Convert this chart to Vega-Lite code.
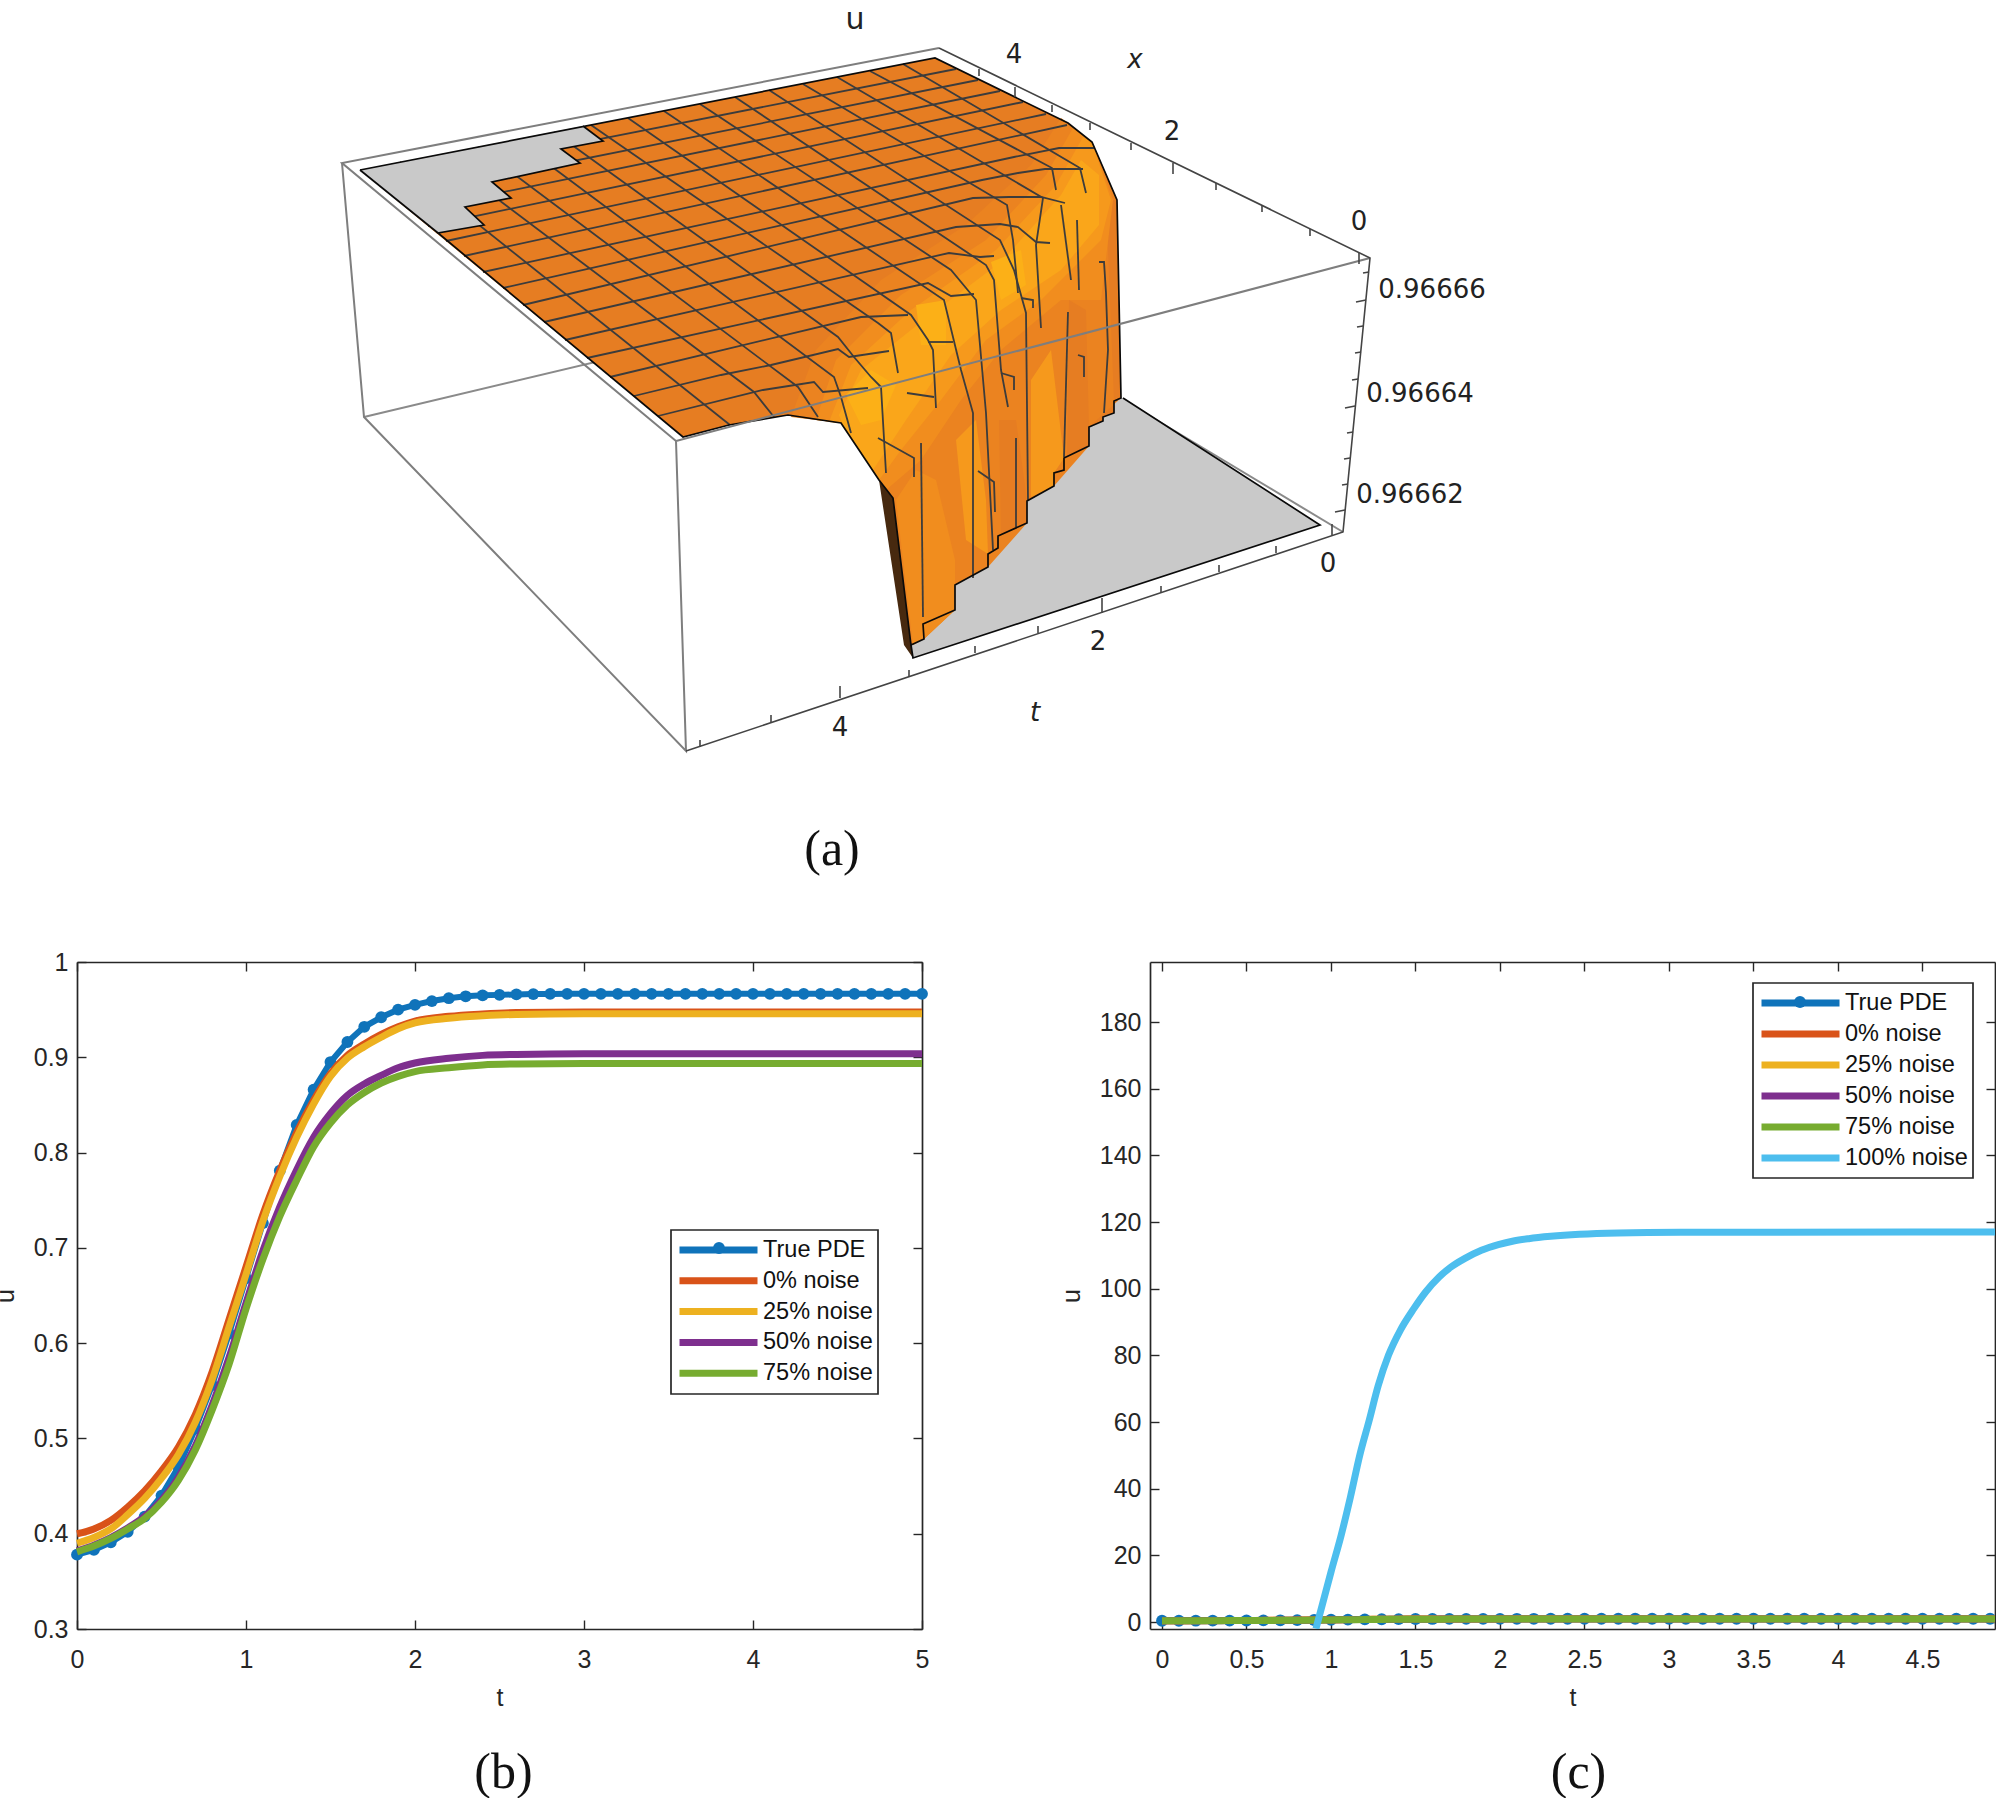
{"$schema":"https://vega.github.io/schema/vega-lite/v6.json","background":"white","padding":{"left":-7,"top":0,"right":0,"bottom":0},"bounds":"flush","spacing":62,
"config":{"view":{"stroke":null},"legend":{"strokeWidth":1.7},"title":{"font":"Liberation Serif","fontSize":50,"fontWeight":"normal","color":"#111111"}},
"datasets":{
"polys":[
{"poly":"floor","i":0,"sx":912,"sy":658,"tone":"floor"},{"poly":"floor","i":1,"sx":1319,"sy":525,"tone":"floor"},{"poly":"floor","i":2,"sx":1122,"sy":398,"tone":"floor"},{"poly":"floor","i":3,"sx":1040,"sy":420,"tone":"floor"},{"poly":"floor","i":4,"sx":920,"sy":590,"tone":"floor"},{"poly":"floor","i":5,"sx":910,"sy":645,"tone":"floor"},
{"poly":"surface","i":0,"sx":359,"sy":170,"tone":"t0"},{"poly":"surface","i":1,"sx":934,"sy":58,"tone":"t0"},{"poly":"surface","i":2,"sx":1067,"sy":123,"tone":"t0"},{"poly":"surface","i":3,"sx":1091,"sy":142,"tone":"t0"},{"poly":"surface","i":4,"sx":1116,"sy":200,"tone":"t0"},{"poly":"surface","i":5,"sx":1120,"sy":398,"tone":"t0"},{"poly":"surface","i":6,"sx":1113,"sy":401,"tone":"t0"},{"poly":"surface","i":7,"sx":1113,"sy":413,"tone":"t0"},{"poly":"surface","i":8,"sx":1102,"sy":417,"tone":"t0"},{"poly":"surface","i":9,"sx":1102,"sy":421,"tone":"t0"},{"poly":"surface","i":10,"sx":1088,"sy":427,"tone":"t0"},{"poly":"surface","i":11,"sx":1088,"sy":446,"tone":"t0"},{"poly":"surface","i":12,"sx":1063,"sy":458,"tone":"t0"},{"poly":"surface","i":13,"sx":1063,"sy":470,"tone":"t0"},{"poly":"surface","i":14,"sx":1053,"sy":473,"tone":"t0"},{"poly":"surface","i":15,"sx":1053,"sy":486,"tone":"t0"},{"poly":"surface","i":16,"sx":1026,"sy":501,"tone":"t0"},{"poly":"surface","i":17,"sx":1026,"sy":523,"tone":"t0"},{"poly":"surface","i":18,"sx":997,"sy":536,"tone":"t0"},{"poly":"surface","i":19,"sx":997,"sy":548,"tone":"t0"},{"poly":"surface","i":20,"sx":987,"sy":554,"tone":"t0"},{"poly":"surface","i":21,"sx":987,"sy":567,"tone":"t0"},{"poly":"surface","i":22,"sx":954,"sy":585,"tone":"t0"},{"poly":"surface","i":23,"sx":954,"sy":610,"tone":"t0"},{"poly":"surface","i":24,"sx":922,"sy":624,"tone":"t0"},{"poly":"surface","i":25,"sx":923,"sy":639,"tone":"t0"},{"poly":"surface","i":26,"sx":910,"sy":645,"tone":"t0"},{"poly":"surface","i":27,"sx":892,"sy":498,"tone":"t0"},{"poly":"surface","i":28,"sx":878,"sy":480,"tone":"t0"},{"poly":"surface","i":29,"sx":840,"sy":423,"tone":"t0"},{"poly":"surface","i":30,"sx":787,"sy":415,"tone":"t0"},{"poly":"surface","i":31,"sx":728,"sy":425,"tone":"t0"},{"poly":"surface","i":32,"sx":682,"sy":437,"tone":"t0"},
{"poly":"curtain","i":0,"sx":790,"sy":417,"tone":"t1"},{"poly":"curtain","i":1,"sx":815,"sy":350,"tone":"t1"},{"poly":"curtain","i":2,"sx":880,"sy":280,"tone":"t1"},{"poly":"curtain","i":3,"sx":965,"sy":225,"tone":"t1"},{"poly":"curtain","i":4,"sx":1030,"sy":165,"tone":"t1"},{"poly":"curtain","i":5,"sx":1060,"sy":118,"tone":"t1"},{"poly":"curtain","i":6,"sx":1067,"sy":123,"tone":"t1"},{"poly":"curtain","i":7,"sx":1091,"sy":142,"tone":"t1"},{"poly":"curtain","i":8,"sx":1116,"sy":200,"tone":"t1"},{"poly":"curtain","i":9,"sx":1120,"sy":398,"tone":"t1"},{"poly":"curtain","i":10,"sx":1088,"sy":427,"tone":"t1"},{"poly":"curtain","i":11,"sx":1088,"sy":446,"tone":"t1"},{"poly":"curtain","i":12,"sx":1053,"sy":486,"tone":"t1"},{"poly":"curtain","i":13,"sx":1026,"sy":501,"tone":"t1"},{"poly":"curtain","i":14,"sx":1026,"sy":523,"tone":"t1"},{"poly":"curtain","i":15,"sx":987,"sy":567,"tone":"t1"},{"poly":"curtain","i":16,"sx":954,"sy":585,"tone":"t1"},{"poly":"curtain","i":17,"sx":954,"sy":610,"tone":"t1"},{"poly":"curtain","i":18,"sx":923,"sy":639,"tone":"t1"},{"poly":"curtain","i":19,"sx":910,"sy":645,"tone":"t1"},{"poly":"curtain","i":20,"sx":892,"sy":498,"tone":"t1"},{"poly":"curtain","i":21,"sx":878,"sy":480,"tone":"t1"},{"poly":"curtain","i":22,"sx":840,"sy":423,"tone":"t1"},
{"poly":"stripA","i":0,"sx":895,"sy":500,"tone":"t2"},{"poly":"stripA","i":1,"sx":915,"sy":470,"tone":"t2"},{"poly":"stripA","i":2,"sx":935,"sy":480,"tone":"t2"},{"poly":"stripA","i":3,"sx":954,"sy":560,"tone":"t2"},{"poly":"stripA","i":4,"sx":954,"sy":610,"tone":"t2"},{"poly":"stripA","i":5,"sx":923,"sy":639,"tone":"t2"},{"poly":"stripA","i":6,"sx":912,"sy":645,"tone":"t2"},
{"poly":"stripB","i":0,"sx":955,"sy":440,"tone":"t3"},{"poly":"stripB","i":1,"sx":975,"sy":420,"tone":"t3"},{"poly":"stripB","i":2,"sx":985,"sy":500,"tone":"t3"},{"poly":"stripB","i":3,"sx":987,"sy":554,"tone":"t3"},{"poly":"stripB","i":4,"sx":965,"sy":540,"tone":"t3"},
{"poly":"stripC","i":0,"sx":998,"sy":420,"tone":"t0"},{"poly":"stripC","i":1,"sx":1015,"sy":420,"tone":"t0"},{"poly":"stripC","i":2,"sx":1026,"sy":500,"tone":"t0"},{"poly":"stripC","i":3,"sx":1026,"sy":523,"tone":"t0"},{"poly":"stripC","i":4,"sx":1000,"sy":535,"tone":"t0"},
{"poly":"stripD","i":0,"sx":1030,"sy":380,"tone":"t3"},{"poly":"stripD","i":1,"sx":1050,"sy":350,"tone":"t3"},{"poly":"stripD","i":2,"sx":1063,"sy":458,"tone":"t3"},{"poly":"stripD","i":3,"sx":1053,"sy":473,"tone":"t3"},{"poly":"stripD","i":4,"sx":1053,"sy":486,"tone":"t3"},{"poly":"stripD","i":5,"sx":1030,"sy":497,"tone":"t3"},
{"poly":"stripE","i":0,"sx":1068,"sy":300,"tone":"t0"},{"poly":"stripE","i":1,"sx":1085,"sy":310,"tone":"t0"},{"poly":"stripE","i":2,"sx":1088,"sy":427,"tone":"t0"},{"poly":"stripE","i":3,"sx":1088,"sy":446,"tone":"t0"},{"poly":"stripE","i":4,"sx":1066,"sy":455,"tone":"t0"},
{"poly":"stripF","i":0,"sx":1105,"sy":200,"tone":"t0"},{"poly":"stripF","i":1,"sx":1116,"sy":200,"tone":"t0"},{"poly":"stripF","i":2,"sx":1120,"sy":398,"tone":"t0"},{"poly":"stripF","i":3,"sx":1113,"sy":401,"tone":"t0"},
{"poly":"band2","i":0,"sx":815,"sy":420,"tone":"t2"},{"poly":"band2","i":1,"sx":835,"sy":360,"tone":"t2"},{"poly":"band2","i":2,"sx":900,"sy":295,"tone":"t2"},{"poly":"band2","i":3,"sx":985,"sy":240,"tone":"t2"},{"poly":"band2","i":4,"sx":1045,"sy":175,"tone":"t2"},{"poly":"band2","i":5,"sx":1072,"sy":128,"tone":"t2"},{"poly":"band2","i":6,"sx":1091,"sy":142,"tone":"t2"},{"poly":"band2","i":7,"sx":1112,"sy":200,"tone":"t2"},{"poly":"band2","i":8,"sx":1100,"sy":300,"tone":"t2"},{"poly":"band2","i":9,"sx":1060,"sy":300,"tone":"t2"},{"poly":"band2","i":10,"sx":1000,"sy":350,"tone":"t2"},{"poly":"band2","i":11,"sx":960,"sy":400,"tone":"t2"},{"poly":"band2","i":12,"sx":920,"sy":460,"tone":"t2"},{"poly":"band2","i":13,"sx":885,"sy":490,"tone":"t2"},{"poly":"band2","i":14,"sx":878,"sy":480,"tone":"t2"},{"poly":"band2","i":15,"sx":840,"sy":423,"tone":"t2"},
{"poly":"band3","i":0,"sx":828,"sy":422,"tone":"t3"},{"poly":"band3","i":1,"sx":850,"sy":365,"tone":"t3"},{"poly":"band3","i":2,"sx":910,"sy":310,"tone":"t3"},{"poly":"band3","i":3,"sx":995,"sy":250,"tone":"t3"},{"poly":"band3","i":4,"sx":1055,"sy":185,"tone":"t3"},{"poly":"band3","i":5,"sx":1082,"sy":137,"tone":"t3"},{"poly":"band3","i":6,"sx":1091,"sy":142,"tone":"t3"},{"poly":"band3","i":7,"sx":1110,"sy":200,"tone":"t3"},{"poly":"band3","i":8,"sx":1100,"sy":240,"tone":"t3"},{"poly":"band3","i":9,"sx":1040,"sy":300,"tone":"t3"},{"poly":"band3","i":10,"sx":985,"sy":340,"tone":"t3"},{"poly":"band3","i":11,"sx":940,"sy":400,"tone":"t3"},{"poly":"band3","i":12,"sx":900,"sy":450,"tone":"t3"},{"poly":"band3","i":13,"sx":878,"sy":480,"tone":"t3"},{"poly":"band3","i":14,"sx":840,"sy":423,"tone":"t3"},
{"poly":"band4","i":0,"sx":838,"sy":415,"tone":"t4"},{"poly":"band4","i":1,"sx":860,"sy":370,"tone":"t4"},{"poly":"band4","i":2,"sx":925,"sy":318,"tone":"t4"},{"poly":"band4","i":3,"sx":1000,"sy":262,"tone":"t4"},{"poly":"band4","i":4,"sx":1060,"sy":195,"tone":"t4"},{"poly":"band4","i":5,"sx":1080,"sy":160,"tone":"t4"},{"poly":"band4","i":6,"sx":1098,"sy":175,"tone":"t4"},{"poly":"band4","i":7,"sx":1098,"sy":225,"tone":"t4"},{"poly":"band4","i":8,"sx":1060,"sy":270,"tone":"t4"},{"poly":"band4","i":9,"sx":1000,"sy":310,"tone":"t4"},{"poly":"band4","i":10,"sx":950,"sy":355,"tone":"t4"},{"poly":"band4","i":11,"sx":905,"sy":420,"tone":"t4"},{"poly":"band4","i":12,"sx":872,"sy":470,"tone":"t4"},{"poly":"band4","i":13,"sx":842,"sy":425,"tone":"t4"},
{"poly":"glow1","i":0,"sx":845,"sy":395,"tone":"t5"},{"poly":"glow1","i":1,"sx":870,"sy":370,"tone":"t5"},{"poly":"glow1","i":2,"sx":895,"sy":385,"tone":"t5"},{"poly":"glow1","i":3,"sx":880,"sy":420,"tone":"t5"},{"poly":"glow1","i":4,"sx":860,"sy":425,"tone":"t5"},
{"poly":"glow2","i":0,"sx":915,"sy":305,"tone":"t5"},{"poly":"glow2","i":1,"sx":945,"sy":300,"tone":"t5"},{"poly":"glow2","i":2,"sx":945,"sy":345,"tone":"t5"},{"poly":"glow2","i":3,"sx":920,"sy":345,"tone":"t5"},
{"poly":"glow3","i":0,"sx":990,"sy":262,"tone":"t5"},{"poly":"glow3","i":1,"sx":1020,"sy":250,"tone":"t5"},{"poly":"glow3","i":2,"sx":1025,"sy":285,"tone":"t5"},{"poly":"glow3","i":3,"sx":1000,"sy":300,"tone":"t5"},
{"poly":"shadow","i":0,"sx":878,"sy":480,"tone":"shadow"},{"poly":"shadow","i":1,"sx":892,"sy":498,"tone":"shadow"},{"poly":"shadow","i":2,"sx":910,"sy":645,"tone":"shadow"},{"poly":"shadow","i":3,"sx":912,"sy":658,"tone":"shadow"},{"poly":"shadow","i":4,"sx":903,"sy":645,"tone":"shadow"},
{"poly":"cut","i":0,"sx":359,"sy":170,"tone":"cut"},{"poly":"cut","i":1,"sx":437,"sy":233,"tone":"cut"},{"poly":"cut","i":2,"sx":483,"sy":225,"tone":"cut"},{"poly":"cut","i":3,"sx":464,"sy":207,"tone":"cut"},{"poly":"cut","i":4,"sx":510,"sy":198,"tone":"cut"},{"poly":"cut","i":5,"sx":491,"sy":182,"tone":"cut"},{"poly":"cut","i":6,"sx":579,"sy":163,"tone":"cut"},{"poly":"cut","i":7,"sx":560,"sy":149,"tone":"cut"},{"poly":"cut","i":8,"sx":602,"sy":141,"tone":"cut"},{"poly":"cut","i":9,"sx":582,"sy":126,"tone":"cut"}
],
"paths":[
{"path":"b1","i":0,"sx":363,"sy":417,"kind":"back"},{"path":"b1","i":1,"sx":927,"sy":283,"kind":"back"},{"path":"b2","i":0,"sx":1342,"sy":532,"kind":"back"},{"path":"b2","i":1,"sx":927,"sy":283,"kind":"back"},
{"path":"k1","i":0,"sx":375,"sy":183,"kind":"mesh"},{"path":"k1","i":1,"sx":955,"sy":69,"kind":"mesh"},
{"path":"k2","i":0,"sx":392,"sy":197,"kind":"mesh"},{"path":"k2","i":1,"sx":977,"sy":80,"kind":"mesh"},
{"path":"k3","i":0,"sx":409,"sy":211,"kind":"mesh"},{"path":"k3","i":1,"sx":999,"sy":91,"kind":"mesh"},
{"path":"k4","i":0,"sx":427,"sy":226,"kind":"mesh"},{"path":"k4","i":1,"sx":1022,"sy":102,"kind":"mesh"},
{"path":"k5","i":0,"sx":445,"sy":241,"kind":"mesh"},{"path":"k5","i":1,"sx":1045,"sy":114,"kind":"mesh"},
{"path":"k6","i":0,"sx":463,"sy":256,"kind":"mesh"},{"path":"k6","i":1,"sx":1066,"sy":125,"kind":"mesh"},
{"path":"k7","i":0,"sx":482,"sy":272,"kind":"mesh"},{"path":"k7","i":1,"sx":1013,"sy":157,"kind":"mesh"},{"path":"k7","i":2,"sx":1058,"sy":148,"kind":"mesh"},{"path":"k7","i":3,"sx":1094,"sy":148,"kind":"mesh"},
{"path":"k8","i":0,"sx":502,"sy":288,"kind":"mesh"},{"path":"k8","i":1,"sx":981,"sy":180,"kind":"mesh"},{"path":"k8","i":2,"sx":1017,"sy":173,"kind":"mesh"},{"path":"k8","i":3,"sx":1044,"sy":169,"kind":"mesh"},{"path":"k8","i":4,"sx":1082,"sy":169,"kind":"mesh"},
{"path":"k9","i":0,"sx":522,"sy":305,"kind":"mesh"},{"path":"k9","i":1,"sx":972,"sy":198,"kind":"mesh"},{"path":"k9","i":2,"sx":1008,"sy":197,"kind":"mesh"},{"path":"k9","i":3,"sx":1040,"sy":197,"kind":"mesh"},{"path":"k9","i":4,"sx":1064,"sy":203,"kind":"mesh"},
{"path":"k10","i":0,"sx":543,"sy":322,"kind":"mesh"},{"path":"k10","i":1,"sx":955,"sy":227,"kind":"mesh"},{"path":"k10","i":2,"sx":999,"sy":224,"kind":"mesh"},{"path":"k10","i":3,"sx":1017,"sy":227,"kind":"mesh"},{"path":"k10","i":4,"sx":1035,"sy":242,"kind":"mesh"},{"path":"k10","i":5,"sx":1049,"sy":243,"kind":"mesh"},
{"path":"k11","i":0,"sx":564,"sy":340,"kind":"mesh"},{"path":"k11","i":1,"sx":948,"sy":253,"kind":"mesh"},{"path":"k11","i":2,"sx":979,"sy":257,"kind":"mesh"},{"path":"k11","i":3,"sx":993,"sy":256,"kind":"mesh"},
{"path":"k12","i":0,"sx":586,"sy":358,"kind":"mesh"},{"path":"k12","i":1,"sx":927,"sy":283,"kind":"mesh"},{"path":"k12","i":2,"sx":950,"sy":296,"kind":"mesh"},{"path":"k12","i":3,"sx":973,"sy":294,"kind":"mesh"},
{"path":"k13","i":0,"sx":609,"sy":377,"kind":"mesh"},{"path":"k13","i":1,"sx":860,"sy":317,"kind":"mesh"},{"path":"k13","i":2,"sx":907,"sy":315,"kind":"mesh"},
{"path":"k14","i":0,"sx":633,"sy":396,"kind":"mesh"},{"path":"k14","i":1,"sx":720,"sy":375,"kind":"mesh"},{"path":"k14","i":2,"sx":770,"sy":365,"kind":"mesh"},{"path":"k14","i":3,"sx":837,"sy":349,"kind":"mesh"},{"path":"k14","i":4,"sx":848,"sy":357,"kind":"mesh"},{"path":"k14","i":5,"sx":888,"sy":351,"kind":"mesh"},
{"path":"k15","i":0,"sx":657,"sy":416,"kind":"mesh"},{"path":"k15","i":1,"sx":762,"sy":390,"kind":"mesh"},{"path":"k15","i":2,"sx":813,"sy":382,"kind":"mesh"},{"path":"k15","i":3,"sx":822,"sy":392,"kind":"mesh"},{"path":"k15","i":4,"sx":867,"sy":388,"kind":"mesh"},
{"path":"j1","i":0,"sx":399,"sy":162,"kind":"mesh"},{"path":"j1","i":1,"sx":729,"sy":425,"kind":"mesh"},
{"path":"j2","i":0,"sx":438,"sy":155,"kind":"mesh"},{"path":"j2","i":1,"sx":753,"sy":392,"kind":"mesh"},{"path":"j2","i":2,"sx":773,"sy":417,"kind":"mesh"},
{"path":"j3","i":0,"sx":477,"sy":147,"kind":"mesh"},{"path":"j3","i":1,"sx":797,"sy":387,"kind":"mesh"},{"path":"j3","i":2,"sx":817,"sy":417,"kind":"mesh"},
{"path":"j4","i":0,"sx":515,"sy":140,"kind":"mesh"},{"path":"j4","i":1,"sx":833,"sy":377,"kind":"mesh"},{"path":"j4","i":2,"sx":840,"sy":397,"kind":"mesh"},{"path":"j4","i":3,"sx":850,"sy":433,"kind":"mesh"},
{"path":"j5","i":0,"sx":553,"sy":132,"kind":"mesh"},{"path":"j5","i":1,"sx":837,"sy":337,"kind":"mesh"},{"path":"j5","i":2,"sx":853,"sy":357,"kind":"mesh"},{"path":"j5","i":3,"sx":870,"sy":377,"kind":"mesh"},{"path":"j5","i":4,"sx":880,"sy":387,"kind":"mesh"},{"path":"j5","i":5,"sx":885,"sy":473,"kind":"mesh"},
{"path":"j6","i":0,"sx":590,"sy":125,"kind":"mesh"},{"path":"j6","i":1,"sx":877,"sy":323,"kind":"mesh"},{"path":"j6","i":2,"sx":890,"sy":333,"kind":"mesh"},{"path":"j6","i":3,"sx":897,"sy":373,"kind":"mesh"},
{"path":"j7","i":0,"sx":627,"sy":118,"kind":"mesh"},{"path":"j7","i":1,"sx":910,"sy":315,"kind":"mesh"},{"path":"j7","i":2,"sx":927,"sy":340,"kind":"mesh"},{"path":"j7","i":3,"sx":932,"sy":350,"kind":"mesh"},{"path":"j7","i":4,"sx":935,"sy":408,"kind":"mesh"},
{"path":"j8","i":0,"sx":663,"sy":111,"kind":"mesh"},{"path":"j8","i":1,"sx":943,"sy":300,"kind":"mesh"},{"path":"j8","i":2,"sx":960,"sy":370,"kind":"mesh"},{"path":"j8","i":3,"sx":972,"sy":413,"kind":"mesh"},{"path":"j8","i":4,"sx":972,"sy":578,"kind":"mesh"},
{"path":"j9","i":0,"sx":699,"sy":104,"kind":"mesh"},{"path":"j9","i":1,"sx":950,"sy":270,"kind":"mesh"},{"path":"j9","i":2,"sx":975,"sy":300,"kind":"mesh"},{"path":"j9","i":3,"sx":985,"sy":413,"kind":"mesh"},{"path":"j9","i":4,"sx":992,"sy":550,"kind":"mesh"},
{"path":"j10","i":0,"sx":734,"sy":97,"kind":"mesh"},{"path":"j10","i":1,"sx":985,"sy":265,"kind":"mesh"},{"path":"j10","i":2,"sx":993,"sy":280,"kind":"mesh"},{"path":"j10","i":3,"sx":1000,"sy":370,"kind":"mesh"},{"path":"j10","i":4,"sx":1007,"sy":407,"kind":"mesh"},
{"path":"j11","i":0,"sx":768,"sy":90,"kind":"mesh"},{"path":"j11","i":1,"sx":999,"sy":240,"kind":"mesh"},{"path":"j11","i":2,"sx":1013,"sy":270,"kind":"mesh"},{"path":"j11","i":3,"sx":1025,"sy":313,"kind":"mesh"},{"path":"j11","i":4,"sx":1027,"sy":500,"kind":"mesh"},
{"path":"j12","i":0,"sx":802,"sy":84,"kind":"mesh"},{"path":"j12","i":1,"sx":1006,"sy":205,"kind":"mesh"},{"path":"j12","i":2,"sx":1012,"sy":240,"kind":"mesh"},{"path":"j12","i":3,"sx":1017,"sy":293,"kind":"mesh"},
{"path":"j13","i":0,"sx":836,"sy":77,"kind":"mesh"},{"path":"j13","i":1,"sx":1042,"sy":198,"kind":"mesh"},{"path":"j13","i":2,"sx":1035,"sy":245,"kind":"mesh"},{"path":"j13","i":3,"sx":1040,"sy":328,"kind":"mesh"},
{"path":"j14","i":0,"sx":869,"sy":71,"kind":"mesh"},{"path":"j14","i":1,"sx":1051,"sy":168,"kind":"mesh"},{"path":"j14","i":2,"sx":1055,"sy":190,"kind":"mesh"},
{"path":"j15","i":0,"sx":902,"sy":64,"kind":"mesh"},{"path":"j15","i":1,"sx":1079,"sy":168,"kind":"mesh"},{"path":"j15","i":2,"sx":1085,"sy":193,"kind":"mesh"},
{"path":"e1","i":0,"sx":877,"sy":438,"kind":"mesh"},{"path":"e1","i":1,"sx":913,"sy":458,"kind":"mesh"},{"path":"e1","i":2,"sx":913,"sy":477,"kind":"mesh"},
{"path":"e2","i":0,"sx":920,"sy":443,"kind":"mesh"},{"path":"e2","i":1,"sx":922,"sy":617,"kind":"mesh"},
{"path":"e3","i":0,"sx":906,"sy":393,"kind":"mesh"},{"path":"e3","i":1,"sx":933,"sy":397,"kind":"mesh"},
{"path":"e4","i":0,"sx":1000,"sy":373,"kind":"mesh"},{"path":"e4","i":1,"sx":1013,"sy":377,"kind":"mesh"},{"path":"e4","i":2,"sx":1013,"sy":390,"kind":"mesh"},
{"path":"e5","i":0,"sx":977,"sy":471,"kind":"mesh"},{"path":"e5","i":1,"sx":993,"sy":482,"kind":"mesh"},{"path":"e5","i":2,"sx":994,"sy":512,"kind":"mesh"},
{"path":"e6","i":0,"sx":1015,"sy":438,"kind":"mesh"},{"path":"e6","i":1,"sx":1015,"sy":527,"kind":"mesh"},
{"path":"e7","i":0,"sx":1020,"sy":298,"kind":"mesh"},{"path":"e7","i":1,"sx":1032,"sy":300,"kind":"mesh"},{"path":"e7","i":2,"sx":1032,"sy":308,"kind":"mesh"},
{"path":"e8","i":0,"sx":1067,"sy":312,"kind":"mesh"},{"path":"e8","i":1,"sx":1063,"sy":457,"kind":"mesh"},
{"path":"e9","i":0,"sx":1077,"sy":355,"kind":"mesh"},{"path":"e9","i":1,"sx":1083,"sy":357,"kind":"mesh"},{"path":"e9","i":2,"sx":1083,"sy":377,"kind":"mesh"},
{"path":"e10","i":0,"sx":1076,"sy":220,"kind":"mesh"},{"path":"e10","i":1,"sx":1078,"sy":290,"kind":"mesh"},
{"path":"e11","i":0,"sx":1098,"sy":262,"kind":"mesh"},{"path":"e11","i":1,"sx":1103,"sy":262,"kind":"mesh"},{"path":"e11","i":2,"sx":1105,"sy":293,"kind":"mesh"},{"path":"e11","i":3,"sx":1107,"sy":350,"kind":"mesh"},{"path":"e11","i":4,"sx":1103,"sy":413,"kind":"mesh"},
{"path":"e12","i":0,"sx":1060,"sy":205,"kind":"mesh"},{"path":"e12","i":1,"sx":1070,"sy":280,"kind":"mesh"},
{"path":"e13","i":0,"sx":927,"sy":342,"kind":"mesh"},{"path":"e13","i":1,"sx":952,"sy":342,"kind":"mesh"},
{"path":"o1","i":0,"sx":359,"sy":170,"kind":"edge"},{"path":"o1","i":1,"sx":934,"sy":58,"kind":"edge"},{"path":"o1","i":2,"sx":1067,"sy":123,"kind":"edge"},{"path":"o1","i":3,"sx":1091,"sy":142,"kind":"edge"},{"path":"o1","i":4,"sx":1116,"sy":200,"kind":"edge"},{"path":"o1","i":5,"sx":1120,"sy":398,"kind":"edge"},{"path":"o1","i":6,"sx":1113,"sy":401,"kind":"edge"},{"path":"o1","i":7,"sx":1113,"sy":413,"kind":"edge"},{"path":"o1","i":8,"sx":1102,"sy":417,"kind":"edge"},{"path":"o1","i":9,"sx":1102,"sy":421,"kind":"edge"},{"path":"o1","i":10,"sx":1088,"sy":427,"kind":"edge"},{"path":"o1","i":11,"sx":1088,"sy":446,"kind":"edge"},{"path":"o1","i":12,"sx":1063,"sy":458,"kind":"edge"},{"path":"o1","i":13,"sx":1063,"sy":470,"kind":"edge"},{"path":"o1","i":14,"sx":1053,"sy":473,"kind":"edge"},{"path":"o1","i":15,"sx":1053,"sy":486,"kind":"edge"},{"path":"o1","i":16,"sx":1026,"sy":501,"kind":"edge"},{"path":"o1","i":17,"sx":1026,"sy":523,"kind":"edge"},{"path":"o1","i":18,"sx":997,"sy":536,"kind":"edge"},{"path":"o1","i":19,"sx":997,"sy":548,"kind":"edge"},{"path":"o1","i":20,"sx":987,"sy":554,"kind":"edge"},{"path":"o1","i":21,"sx":987,"sy":567,"kind":"edge"},{"path":"o1","i":22,"sx":954,"sy":585,"kind":"edge"},{"path":"o1","i":23,"sx":954,"sy":610,"kind":"edge"},{"path":"o1","i":24,"sx":922,"sy":624,"kind":"edge"},{"path":"o1","i":25,"sx":923,"sy":639,"kind":"edge"},{"path":"o1","i":26,"sx":910,"sy":645,"kind":"edge"},{"path":"o1","i":27,"sx":892,"sy":498,"kind":"edge"},{"path":"o1","i":28,"sx":878,"sy":480,"kind":"edge"},{"path":"o1","i":29,"sx":840,"sy":423,"kind":"edge"},{"path":"o1","i":30,"sx":787,"sy":415,"kind":"edge"},{"path":"o1","i":31,"sx":728,"sy":425,"kind":"edge"},{"path":"o1","i":32,"sx":682,"sy":437,"kind":"edge"},{"path":"o1","i":33,"sx":437,"sy":233,"kind":"edge"},{"path":"o1","i":34,"sx":483,"sy":225,"kind":"edge"},{"path":"o1","i":35,"sx":464,"sy":207,"kind":"edge"},{"path":"o1","i":36,"sx":510,"sy":198,"kind":"edge"},{"path":"o1","i":37,"sx":491,"sy":182,"kind":"edge"},{"path":"o1","i":38,"sx":579,"sy":163,"kind":"edge"},{"path":"o1","i":39,"sx":560,"sy":149,"kind":"edge"},{"path":"o1","i":40,"sx":602,"sy":141,"kind":"edge"},{"path":"o1","i":41,"sx":582,"sy":126,"kind":"edge"},
{"path":"o2","i":0,"sx":359,"sy":170,"kind":"edge"},{"path":"o2","i":1,"sx":437,"sy":233,"kind":"edge"},
{"path":"o3","i":0,"sx":910,"sy":645,"kind":"edge"},{"path":"o3","i":1,"sx":912,"sy":658,"kind":"edge"},{"path":"o3","i":2,"sx":1319,"sy":525,"kind":"edge"},{"path":"o3","i":3,"sx":1122,"sy":398,"kind":"edge"},
{"path":"f1","i":0,"sx":675,"sy":441,"kind":"frame"},{"path":"f1","i":1,"sx":341,"sy":163,"kind":"frame"},{"path":"f1","i":2,"sx":938,"sy":48,"kind":"frame"},
{"path":"f2","i":0,"sx":341,"sy":163,"kind":"frame"},{"path":"f2","i":1,"sx":363,"sy":417,"kind":"frame"},{"path":"f2","i":2,"sx":685,"sy":751,"kind":"frame"},{"path":"f2","i":3,"sx":675,"sy":441,"kind":"frame"},{"path":"f2","i":4,"sx":1369,"sy":258,"kind":"frame"},
{"path":"a1","i":0,"sx":938,"sy":48,"kind":"axis"},{"path":"a1","i":1,"sx":1369,"sy":258,"kind":"axis"},{"path":"a1","i":2,"sx":1342,"sy":532,"kind":"axis"},{"path":"a1","i":3,"sx":685,"sy":751,"kind":"axis"},
{"path":"xt1","i":0,"sx":978,"sy":69,"kind":"axis"},{"path":"xt1","i":1,"sx":978,"sy":76,"kind":"axis"},
{"path":"xt2","i":0,"sx":1014,"sy":87,"kind":"axis"},{"path":"xt2","i":1,"sx":1014,"sy":97,"kind":"axis"},
{"path":"xt3","i":0,"sx":1051,"sy":105,"kind":"axis"},{"path":"xt3","i":1,"sx":1051,"sy":112,"kind":"axis"},
{"path":"xt4","i":0,"sx":1089,"sy":123,"kind":"axis"},{"path":"xt4","i":1,"sx":1089,"sy":130,"kind":"axis"},
{"path":"xt5","i":0,"sx":1130,"sy":143,"kind":"axis"},{"path":"xt5","i":1,"sx":1130,"sy":150,"kind":"axis"},
{"path":"xt6","i":0,"sx":1172,"sy":163,"kind":"axis"},{"path":"xt6","i":1,"sx":1172,"sy":174,"kind":"axis"},
{"path":"xt7","i":0,"sx":1215,"sy":183,"kind":"axis"},{"path":"xt7","i":1,"sx":1215,"sy":190,"kind":"axis"},
{"path":"xt8","i":0,"sx":1261,"sy":205,"kind":"axis"},{"path":"xt8","i":1,"sx":1261,"sy":212,"kind":"axis"},
{"path":"xt9","i":0,"sx":1309,"sy":229,"kind":"axis"},{"path":"xt9","i":1,"sx":1309,"sy":236,"kind":"axis"},
{"path":"xt10","i":0,"sx":1358,"sy":253,"kind":"axis"},{"path":"xt10","i":1,"sx":1358,"sy":264,"kind":"axis"},
{"path":"tt1","i":0,"sx":699,"sy":747,"kind":"axis"},{"path":"tt1","i":1,"sx":699,"sy":740,"kind":"axis"},
{"path":"tt2","i":0,"sx":770,"sy":723,"kind":"axis"},{"path":"tt2","i":1,"sx":770,"sy":715,"kind":"axis"},
{"path":"tt3","i":0,"sx":839,"sy":698,"kind":"axis"},{"path":"tt3","i":1,"sx":839,"sy":686,"kind":"axis"},
{"path":"tt4","i":0,"sx":908,"sy":677,"kind":"axis"},{"path":"tt4","i":1,"sx":908,"sy":670,"kind":"axis"},
{"path":"tt5","i":0,"sx":974,"sy":653,"kind":"axis"},{"path":"tt5","i":1,"sx":974,"sy":646,"kind":"axis"},
{"path":"tt6","i":0,"sx":1037,"sy":633,"kind":"axis"},{"path":"tt6","i":1,"sx":1037,"sy":626,"kind":"axis"},
{"path":"tt7","i":0,"sx":1101,"sy":613,"kind":"axis"},{"path":"tt7","i":1,"sx":1101,"sy":598,"kind":"axis"},
{"path":"tt8","i":0,"sx":1160,"sy":593,"kind":"axis"},{"path":"tt8","i":1,"sx":1160,"sy":586,"kind":"axis"},
{"path":"tt9","i":0,"sx":1218,"sy":572,"kind":"axis"},{"path":"tt9","i":1,"sx":1218,"sy":565,"kind":"axis"},
{"path":"tt10","i":0,"sx":1275,"sy":553,"kind":"axis"},{"path":"tt10","i":1,"sx":1275,"sy":546,"kind":"axis"},
{"path":"tt11","i":0,"sx":1331,"sy":535,"kind":"axis"},{"path":"tt11","i":1,"sx":1331,"sy":524,"kind":"axis"},
{"path":"ut1","i":0,"sx":1368,"sy":272,"kind":"axis"},{"path":"ut1","i":1,"sx":1362,"sy":273,"kind":"axis"},
{"path":"ut2","i":0,"sx":1365,"sy":300,"kind":"axis"},{"path":"ut2","i":1,"sx":1355,"sy":302,"kind":"axis"},
{"path":"ut3","i":0,"sx":1362,"sy":326,"kind":"axis"},{"path":"ut3","i":1,"sx":1356,"sy":327,"kind":"axis"},
{"path":"ut4","i":0,"sx":1360,"sy":352,"kind":"axis"},{"path":"ut4","i":1,"sx":1354,"sy":353,"kind":"axis"},
{"path":"ut5","i":0,"sx":1357,"sy":379,"kind":"axis"},{"path":"ut5","i":1,"sx":1351,"sy":380,"kind":"axis"},
{"path":"ut6","i":0,"sx":1354,"sy":406,"kind":"axis"},{"path":"ut6","i":1,"sx":1344,"sy":408,"kind":"axis"},
{"path":"ut7","i":0,"sx":1352,"sy":432,"kind":"axis"},{"path":"ut7","i":1,"sx":1346,"sy":433,"kind":"axis"},
{"path":"ut8","i":0,"sx":1349,"sy":458,"kind":"axis"},{"path":"ut8","i":1,"sx":1343,"sy":459,"kind":"axis"},
{"path":"ut9","i":0,"sx":1347,"sy":484,"kind":"axis"},{"path":"ut9","i":1,"sx":1341,"sy":485,"kind":"axis"},
{"path":"ut10","i":0,"sx":1344,"sy":510,"kind":"axis"},{"path":"ut10","i":1,"sx":1334,"sy":512,"kind":"axis"}
],
"labels3d":[
{"label":"4","sx":1013,"sy":55},{"label":"2","sx":1171,"sy":132},{"label":"0","sx":1358,"sy":222},{"label":"0.96666","sx":1431,"sy":290},{"label":"0.96664","sx":1419,"sy":394},{"label":"0.96662","sx":1409,"sy":495},{"label":"0","sx":1327,"sy":564},{"label":"2","sx":1097,"sy":642},{"label":"4","sx":839,"sy":728}
],
"labelU":[{"label":"u","sx":854,"sy":20}],
"labelsItalic":[{"label":"x","sx":1134,"sy":60},{"label":"t","sx":1034,"sy":713}],
"captionA":[{"label":"(a)","sx":831,"sy":850}],
"truth":[
{"t":0,"u":0.378,"series":"True PDE"},{"t":0.1,"u":0.383,"series":"True PDE"},{"t":0.2,"u":0.391,"series":"True PDE"},{"t":0.3,"u":0.402,"series":"True PDE"},{"t":0.4,"u":0.418,"series":"True PDE"},{"t":0.5,"u":0.44,"series":"True PDE"},{"t":0.6,"u":0.47,"series":"True PDE"},{"t":0.7,"u":0.51,"series":"True PDE"},{"t":0.8,"u":0.556,"series":"True PDE"},{"t":0.9,"u":0.61,"series":"True PDE"},{"t":1,"u":0.668,"series":"True PDE"},{"t":1.1,"u":0.726,"series":"True PDE"},{"t":1.2,"u":0.781,"series":"True PDE"},{"t":1.3,"u":0.829,"series":"True PDE"},{"t":1.4,"u":0.866,"series":"True PDE"},{"t":1.5,"u":0.895,"series":"True PDE"},{"t":1.6,"u":0.916,"series":"True PDE"},{"t":1.7,"u":0.932,"series":"True PDE"},{"t":1.8,"u":0.942,"series":"True PDE"},{"t":1.9,"u":0.95,"series":"True PDE"},{"t":2,"u":0.955,"series":"True PDE"},{"t":2.1,"u":0.959,"series":"True PDE"},{"t":2.2,"u":0.962,"series":"True PDE"},{"t":2.3,"u":0.964,"series":"True PDE"},{"t":2.4,"u":0.965,"series":"True PDE"},{"t":2.5,"u":0.9655,"series":"True PDE"},{"t":2.6,"u":0.966,"series":"True PDE"},{"t":2.7,"u":0.9663,"series":"True PDE"},{"t":2.8,"u":0.9665,"series":"True PDE"},{"t":2.9,"u":0.9666,"series":"True PDE"},{"t":3,"u":0.9666,"series":"True PDE"},{"t":3.1,"u":0.9666,"series":"True PDE"},{"t":3.2,"u":0.9666,"series":"True PDE"},{"t":3.3,"u":0.9666,"series":"True PDE"},{"t":3.4,"u":0.9666,"series":"True PDE"},{"t":3.5,"u":0.9666,"series":"True PDE"},{"t":3.6,"u":0.9666,"series":"True PDE"},{"t":3.7,"u":0.9666,"series":"True PDE"},{"t":3.8,"u":0.9666,"series":"True PDE"},{"t":3.9,"u":0.9666,"series":"True PDE"},{"t":4,"u":0.9666,"series":"True PDE"},{"t":4.1,"u":0.9666,"series":"True PDE"},{"t":4.2,"u":0.9666,"series":"True PDE"},{"t":4.3,"u":0.9666,"series":"True PDE"},{"t":4.4,"u":0.9666,"series":"True PDE"},{"t":4.5,"u":0.9666,"series":"True PDE"},{"t":4.6,"u":0.9666,"series":"True PDE"},{"t":4.7,"u":0.9666,"series":"True PDE"},{"t":4.8,"u":0.9666,"series":"True PDE"},{"t":4.9,"u":0.9666,"series":"True PDE"},{"t":5,"u":0.9666,"series":"True PDE"}
],
"noisy":[
{"t":0,"u":0.4,"series":"0% noise"},{"t":0.1,"u":0.405,"series":"0% noise"},{"t":0.2,"u":0.414,"series":"0% noise"},{"t":0.3,"u":0.428,"series":"0% noise"},{"t":0.4,"u":0.445,"series":"0% noise"},{"t":0.5,"u":0.466,"series":"0% noise"},{"t":0.6,"u":0.491,"series":"0% noise"},{"t":0.7,"u":0.525,"series":"0% noise"},{"t":0.8,"u":0.57,"series":"0% noise"},{"t":0.9,"u":0.625,"series":"0% noise"},{"t":1,"u":0.68,"series":"0% noise"},{"t":1.1,"u":0.735,"series":"0% noise"},{"t":1.2,"u":0.781,"series":"0% noise"},{"t":1.3,"u":0.821,"series":"0% noise"},{"t":1.4,"u":0.855,"series":"0% noise"},{"t":1.5,"u":0.883,"series":"0% noise"},{"t":1.6,"u":0.902,"series":"0% noise"},{"t":1.7,"u":0.914,"series":"0% noise"},{"t":1.8,"u":0.924,"series":"0% noise"},{"t":1.9,"u":0.932,"series":"0% noise"},{"t":2,"u":0.938,"series":"0% noise"},{"t":2.2,"u":0.943,"series":"0% noise"},{"t":2.4,"u":0.9455,"series":"0% noise"},{"t":2.6,"u":0.947,"series":"0% noise"},{"t":3,"u":0.9475,"series":"0% noise"},{"t":5,"u":0.9475,"series":"0% noise"},
{"t":0,"u":0.39,"series":"25% noise"},{"t":0.1,"u":0.396,"series":"25% noise"},{"t":0.2,"u":0.405,"series":"25% noise"},{"t":0.3,"u":0.42,"series":"25% noise"},{"t":0.4,"u":0.437,"series":"25% noise"},{"t":0.5,"u":0.458,"series":"25% noise"},{"t":0.6,"u":0.483,"series":"25% noise"},{"t":0.7,"u":0.517,"series":"25% noise"},{"t":0.8,"u":0.562,"series":"25% noise"},{"t":0.9,"u":0.617,"series":"25% noise"},{"t":1,"u":0.672,"series":"25% noise"},{"t":1.1,"u":0.728,"series":"25% noise"},{"t":1.2,"u":0.775,"series":"25% noise"},{"t":1.3,"u":0.816,"series":"25% noise"},{"t":1.4,"u":0.851,"series":"25% noise"},{"t":1.5,"u":0.88,"series":"25% noise"},{"t":1.6,"u":0.899,"series":"25% noise"},{"t":1.7,"u":0.911,"series":"25% noise"},{"t":1.8,"u":0.921,"series":"25% noise"},{"t":1.9,"u":0.93,"series":"25% noise"},{"t":2,"u":0.936,"series":"25% noise"},{"t":2.2,"u":0.941,"series":"25% noise"},{"t":2.4,"u":0.9435,"series":"25% noise"},{"t":2.6,"u":0.945,"series":"25% noise"},{"t":3,"u":0.9457,"series":"25% noise"},{"t":5,"u":0.9457,"series":"25% noise"},
{"t":0,"u":0.382,"series":"50% noise"},{"t":0.1,"u":0.388,"series":"50% noise"},{"t":0.2,"u":0.396,"series":"50% noise"},{"t":0.3,"u":0.406,"series":"50% noise"},{"t":0.4,"u":0.418,"series":"50% noise"},{"t":0.5,"u":0.435,"series":"50% noise"},{"t":0.6,"u":0.459,"series":"50% noise"},{"t":0.7,"u":0.492,"series":"50% noise"},{"t":0.8,"u":0.535,"series":"50% noise"},{"t":0.9,"u":0.585,"series":"50% noise"},{"t":1,"u":0.642,"series":"50% noise"},{"t":1.1,"u":0.697,"series":"50% noise"},{"t":1.2,"u":0.743,"series":"50% noise"},{"t":1.3,"u":0.782,"series":"50% noise"},{"t":1.4,"u":0.816,"series":"50% noise"},{"t":1.5,"u":0.841,"series":"50% noise"},{"t":1.6,"u":0.86,"series":"50% noise"},{"t":1.7,"u":0.872,"series":"50% noise"},{"t":1.8,"u":0.881,"series":"50% noise"},{"t":1.9,"u":0.889,"series":"50% noise"},{"t":2,"u":0.894,"series":"50% noise"},{"t":2.2,"u":0.899,"series":"50% noise"},{"t":2.4,"u":0.902,"series":"50% noise"},{"t":2.6,"u":0.903,"series":"50% noise"},{"t":3,"u":0.9037,"series":"50% noise"},{"t":5,"u":0.9037,"series":"50% noise"},
{"t":0,"u":0.381,"series":"75% noise"},{"t":0.1,"u":0.387,"series":"75% noise"},{"t":0.2,"u":0.395,"series":"75% noise"},{"t":0.3,"u":0.405,"series":"75% noise"},{"t":0.4,"u":0.416,"series":"75% noise"},{"t":0.5,"u":0.433,"series":"75% noise"},{"t":0.6,"u":0.456,"series":"75% noise"},{"t":0.7,"u":0.488,"series":"75% noise"},{"t":0.8,"u":0.53,"series":"75% noise"},{"t":0.9,"u":0.578,"series":"75% noise"},{"t":1,"u":0.636,"series":"75% noise"},{"t":1.1,"u":0.688,"series":"75% noise"},{"t":1.2,"u":0.733,"series":"75% noise"},{"t":1.3,"u":0.771,"series":"75% noise"},{"t":1.4,"u":0.806,"series":"75% noise"},{"t":1.5,"u":0.831,"series":"75% noise"},{"t":1.6,"u":0.85,"series":"75% noise"},{"t":1.7,"u":0.863,"series":"75% noise"},{"t":1.8,"u":0.873,"series":"75% noise"},{"t":1.9,"u":0.88,"series":"75% noise"},{"t":2,"u":0.885,"series":"75% noise"},{"t":2.2,"u":0.889,"series":"75% noise"},{"t":2.4,"u":0.892,"series":"75% noise"},{"t":2.6,"u":0.893,"series":"75% noise"},{"t":3,"u":0.8935,"series":"75% noise"},{"t":5,"u":0.8935,"series":"75% noise"}
],
"noise100":[
{"t":0.911,"u":-2,"series":"100% noise"},{"t":1,"u":15,"series":"100% noise"},{"t":1.06,"u":26,"series":"100% noise"},{"t":1.115,"u":37.5,"series":"100% noise"},{"t":1.17,"u":50,"series":"100% noise"},{"t":1.226,"u":60.5,"series":"100% noise"},{"t":1.28,"u":71,"series":"100% noise"},{"t":1.34,"u":80,"series":"100% noise"},{"t":1.41,"u":87.5,"series":"100% noise"},{"t":1.49,"u":94,"series":"100% noise"},{"t":1.56,"u":99,"series":"100% noise"},{"t":1.64,"u":103.5,"series":"100% noise"},{"t":1.71,"u":106.5,"series":"100% noise"},{"t":1.79,"u":109,"series":"100% noise"},{"t":1.89,"u":111.5,"series":"100% noise"},{"t":1.99,"u":113.2,"series":"100% noise"},{"t":2.08,"u":114.3,"series":"100% noise"},{"t":2.17,"u":115,"series":"100% noise"},{"t":2.3,"u":115.7,"series":"100% noise"},{"t":2.47,"u":116.3,"series":"100% noise"},{"t":2.7,"u":116.7,"series":"100% noise"},{"t":3.07,"u":116.9,"series":"100% noise"},{"t":4.93,"u":117,"series":"100% noise"}
],
"legendKeyB":[{"t":3.793,"u":0.6998,"key":"True PDE"}],
"legendKeyC":[{"t":3.769,"u":185.9,"key":"True PDE"}]
},
"vconcat":[
{"width":1918,"height":900,
"encoding":{"x":{"field":"sx","type":"quantitative","scale":{"domain":[76,1994],"nice":false,"zero":false},"axis":null},"y":{"field":"sy","type":"quantitative","scale":{"domain":[900,0],"nice":false,"zero":false},"axis":null}},
"layer":[
{"data":{"name":"paths"},"transform":[{"filter":"datum.kind==='back'"}],"mark":{"type":"line","strokeWidth":2,"stroke":"#8A8A8A"},"encoding":{"detail":{"field":"path"},"order":{"field":"i","type":"quantitative"}}},
{"data":{"name":"polys"},"transform":[{"filter":"datum.tone!=='cut'"}],"mark":{"type":"line","strokeWidth":0},"encoding":{"detail":{"field":"poly"},"order":{"field":"i","type":"quantitative"},"fill":{"field":"tone","type":"nominal","legend":null,"scale":{"domain":["floor","cut","shadow","t0","t1","t2","t3","t4","t5"],"range":["#C9C9C9","#C9C9C9","#47290F","#E67D22","#EB8320","#F18D1E","#F6991C","#FAA61A","#FCB017"]}}}},
{"data":{"name":"paths"},"transform":[{"filter":"datum.kind==='mesh'"}],"mark":{"type":"line","strokeWidth":1.8,"stroke":"#3C3C3C"},"encoding":{"detail":{"field":"path"},"order":{"field":"i","type":"quantitative"}}},
{"data":{"name":"polys"},"transform":[{"filter":"datum.tone==='cut'"}],"mark":{"type":"line","strokeWidth":0},"encoding":{"detail":{"field":"poly"},"order":{"field":"i","type":"quantitative"},"fill":{"field":"tone","type":"nominal","legend":null,"scale":{"domain":["floor","cut","shadow","t0","t1","t2","t3","t4","t5"],"range":["#C9C9C9","#C9C9C9","#47290F","#E67D22","#EB8320","#F18D1E","#F6991C","#FAA61A","#FCB017"]}}}},
{"data":{"name":"paths"},"transform":[{"filter":"datum.kind==='edge'"}],"mark":{"type":"line","strokeWidth":1.7,"stroke":"#0A0A0A"},"encoding":{"detail":{"field":"path"},"order":{"field":"i","type":"quantitative"}}},
{"data":{"name":"paths"},"transform":[{"filter":"datum.kind==='frame'"}],"mark":{"type":"line","strokeWidth":2,"stroke":"#7E7E7E"},"encoding":{"detail":{"field":"path"},"order":{"field":"i","type":"quantitative"}}},
{"data":{"name":"paths"},"transform":[{"filter":"datum.kind==='axis'"}],"mark":{"type":"line","strokeWidth":1.6,"stroke":"#444444"},"encoding":{"detail":{"field":"path"},"order":{"field":"i","type":"quantitative"}}},
{"data":{"name":"labels3d"},"mark":{"type":"text","font":"DejaVu Sans","fontSize":26,"color":"#222222","align":"center","baseline":"middle"},"encoding":{"text":{"field":"label"}}},
{"data":{"name":"labelU"},"mark":{"type":"text","font":"DejaVu Sans","fontSize":30,"color":"#222222","align":"center","baseline":"middle"},"encoding":{"text":{"field":"label"}}},
{"data":{"name":"labelsItalic"},"mark":{"type":"text","font":"DejaVu Sans","fontStyle":"italic","fontSize":26,"color":"#222222","align":"center","baseline":"middle"},"encoding":{"text":{"field":"label"}}},
{"data":{"name":"captionA"},"mark":{"type":"text","font":"Liberation Serif","fontSize":50,"color":"#111111","align":"center","baseline":"middle"},"encoding":{"text":{"field":"label"}}}
]},
{"hconcat":[
{"width":845,"height":667,"title":{"text":"(b)","orient":"bottom","dx":4,"offset":38},
"resolve":{"axis":{"x":"independent","y":"independent"}},
"layer":[
{"data":{"name":"truth"},"mark":{"type":"line","strokeWidth":6},"encoding":{"x":{"field":"t","type":"quantitative","title":"t","scale":{"domain":[0,5],"nice":false,"zero":false},"axis":{"orient":"bottom","values":[0,1,2,3,4,5],"format":"~g","grid":false,"domainColor":"#262626","domainWidth":1.7,"tickColor":"#262626","tickWidth":1.4,"tickSize":-9,"labelFont":"Liberation Sans","labelFontSize":25,"labelColor":"#262626","labelPadding":27,"labelFlush":false,"labelOverlap":false,"titleFont":"Liberation Sans","titleFontSize":25,"titleFontWeight":"normal","titleColor":"#262626","titlePadding":13}},"y":{"field":"u","type":"quantitative","title":"u","scale":{"domain":[0.3,1],"nice":false,"zero":false},"axis":{"orient":"left","values":[0.3,0.4,0.5,0.6,0.7,0.8,0.9,1],"format":"~g","grid":false,"domainColor":"#262626","domainWidth":1.7,"tickColor":"#262626","tickWidth":1.4,"tickSize":-9,"labelFont":"Liberation Sans","labelFontSize":25,"labelColor":"#262626","labelPadding":18,"labelFlush":false,"labelOverlap":false,"titleFont":"Liberation Sans","titleFontSize":25,"titleFontWeight":"normal","titleColor":"#262626","titlePadding":15}},"color":{"field":"series","type":"nominal","scale":{"domain":["True PDE","0% noise","25% noise","50% noise","75% noise"],"range":["#0F73BA","#D95319","#EDB120","#7E2F8E","#77AC30"]},"legend":{"title":null,"orient":"none","legendX":594,"legendY":268,"symbolType":"stroke","symbolSize":6084,"symbolStrokeWidth":7,"clipHeight":30,"rowPadding":0.8,"labelFontSize":23.5,"labelFont":"Liberation Sans","labelColor":"#111111","labelOffset":2,"padding":5,"strokeColor":"#262626","fillColor":"white"}}}},
{"data":{"name":"truth"},"mark":{"type":"point","filled":true,"opacity":1,"size":140,"color":"#0F73BA"},"encoding":{"x":{"field":"t","type":"quantitative","axis":null},"y":{"field":"u","type":"quantitative","axis":null}}},
{"data":{"name":"noisy"},"mark":{"type":"line","strokeWidth":7,"interpolate":"monotone"},"encoding":{"x":{"field":"t","type":"quantitative","axis":null},"y":{"field":"u","type":"quantitative","axis":null},"color":{"field":"series","type":"nominal"}}},
{"data":{"name":"legendKeyB"},"mark":{"type":"point","filled":true,"opacity":1,"size":140,"color":"#0F73BA"},"encoding":{"x":{"field":"t","type":"quantitative","title":null,"axis":{"orient":"top","values":[0,1,2,3,4,5],"labels":false,"title":null,"grid":false,"domainColor":"#262626","domainWidth":1.7,"tickColor":"#262626","tickWidth":1.4,"tickSize":-9}},"y":{"field":"u","type":"quantitative","title":null,"axis":{"orient":"right","values":[0.3,0.4,0.5,0.6,0.7,0.8,0.9,1],"labels":false,"title":null,"grid":false,"domainColor":"#262626","domainWidth":1.7,"tickColor":"#262626","tickWidth":1.4,"tickSize":-9}},"shape":{"field":"key","type":"nominal","scale":{"domain":["True PDE"],"range":["circle"]},"legend":{"title":null,"orient":"none","legendX":635,"legendY":279,"labelExpr":"''","padding":0,"symbolSize":140,"symbolFillColor":"#0F73BA","symbolStrokeColor":"#0F73BA","symbolOpacity":1}}}}
]},
{"width":845,"height":667,"title":{"text":"(c)","orient":"bottom","dx":6,"offset":38},
"resolve":{"axis":{"x":"independent","y":"independent"}},
"layer":[
{"data":{"name":"truth"},"mark":{"type":"line","strokeWidth":6,"clip":true},"encoding":{"x":{"field":"t","type":"quantitative","title":"t","scale":{"domain":[-0.071,4.929],"nice":false,"zero":false},"axis":{"orient":"bottom","values":[0,0.5,1,1.5,2,2.5,3,3.5,4,4.5],"format":"~g","grid":false,"domainColor":"#262626","domainWidth":1.7,"tickColor":"#262626","tickWidth":1.4,"tickSize":-9,"labelFont":"Liberation Sans","labelFontSize":25,"labelColor":"#262626","labelPadding":27,"labelFlush":false,"labelOverlap":false,"titleFont":"Liberation Sans","titleFontSize":25,"titleFontWeight":"normal","titleColor":"#262626","titlePadding":13}},"y":{"field":"u","type":"quantitative","title":"u","scale":{"domain":[-2.1,198],"nice":false,"zero":false},"axis":{"orient":"left","values":[0,20,40,60,80,100,120,140,160,180],"format":"d","grid":false,"domainColor":"#262626","domainWidth":1.7,"tickColor":"#262626","tickWidth":1.4,"tickSize":-9,"labelFont":"Liberation Sans","labelFontSize":25,"labelColor":"#262626","labelPadding":18,"labelFlush":false,"labelOverlap":false,"titleFont":"Liberation Sans","titleFontSize":25,"titleFontWeight":"normal","titleColor":"#262626","titlePadding":15}},"color":{"field":"series","type":"nominal","scale":{"domain":["True PDE","0% noise","25% noise","50% noise","75% noise","100% noise"],"range":["#0F73BA","#D95319","#EDB120","#7E2F8E","#77AC30","#4DBEEE"]},"legend":{"title":null,"orient":"none","legendX":603,"legendY":21,"symbolType":"stroke","symbolSize":6084,"symbolStrokeWidth":7,"clipHeight":30,"rowPadding":1,"labelFontSize":23.5,"labelFont":"Liberation Sans","labelColor":"#111111","labelOffset":2,"padding":5,"strokeColor":"#262626","fillColor":"white"}}}},
{"data":{"name":"truth"},"mark":{"type":"point","filled":true,"opacity":1,"size":140,"color":"#0F73BA","clip":true},"encoding":{"x":{"field":"t","type":"quantitative","axis":null},"y":{"field":"u","type":"quantitative","axis":null}}},
{"data":{"name":"noisy"},"mark":{"type":"line","strokeWidth":7,"clip":true,"interpolate":"monotone"},"encoding":{"x":{"field":"t","type":"quantitative","axis":null},"y":{"field":"u","type":"quantitative","axis":null},"color":{"field":"series","type":"nominal"}}},
{"data":{"name":"noise100"},"mark":{"type":"line","strokeWidth":7,"clip":true,"interpolate":"monotone"},"encoding":{"x":{"field":"t","type":"quantitative","axis":null},"y":{"field":"u","type":"quantitative","axis":null},"color":{"field":"series","type":"nominal"}}},
{"data":{"name":"legendKeyC"},"mark":{"type":"point","filled":true,"opacity":1,"size":140,"color":"#0F73BA"},"encoding":{"x":{"field":"t","type":"quantitative","title":null,"axis":{"orient":"top","values":[0,0.5,1,1.5,2,2.5,3,3.5,4,4.5],"labels":false,"title":null,"grid":false,"domainColor":"#262626","domainWidth":1.7,"tickColor":"#262626","tickWidth":1.4,"tickSize":-9}},"y":{"field":"u","type":"quantitative","title":null,"axis":{"orient":"right","values":[0,20,40,60,80,100,120,140,160,180],"labels":false,"title":null,"grid":false,"domainColor":"#262626","domainWidth":1.7,"tickColor":"#262626","tickWidth":1.4,"tickSize":-9}},"shape":{"field":"key","type":"nominal","scale":{"domain":["True PDE"],"range":["circle"]},"legend":{"title":null,"orient":"none","legendX":643,"legendY":33,"labelExpr":"''","padding":0,"symbolSize":140,"symbolFillColor":"#0F73BA","symbolStrokeColor":"#0F73BA","symbolOpacity":1}}}}
]}
],"spacing":228,"bounds":"flush","resolve":{"scale":{"color":"independent","shape":"independent","x":"independent","y":"independent"}}}
],"resolve":{"scale":{"x":"independent","y":"independent"}}}
